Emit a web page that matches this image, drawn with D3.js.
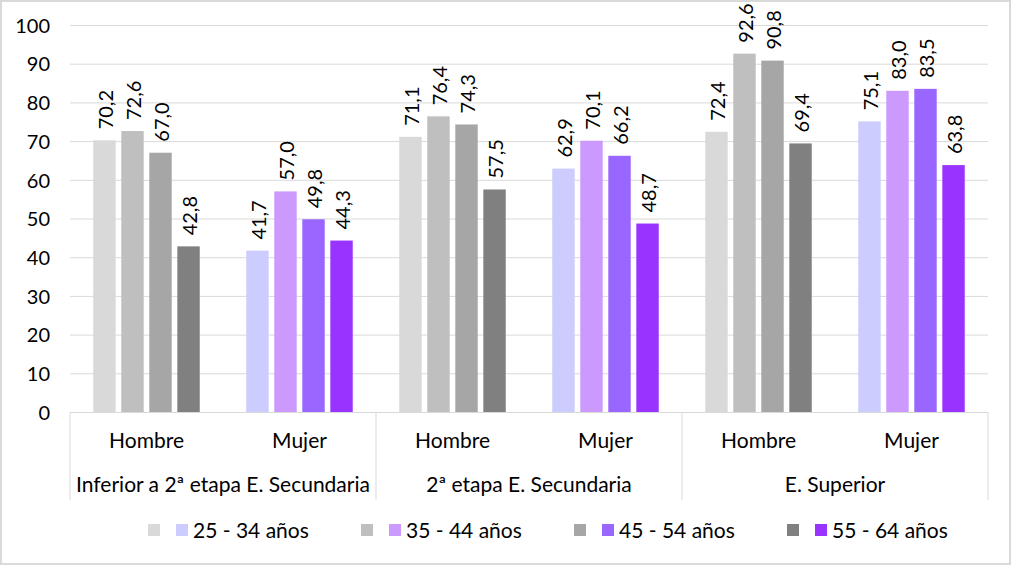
<!DOCTYPE html>
<html>
<head>
<meta charset="utf-8">
<script src="https://cdn.jsdelivr.net/npm/d3@7"></script>
<style>
  body { margin: 0; background: #fff; }
  svg text { font-family: Lato, "Open Sans", sans-serif; fill: #000; }
</style>
</head>
<body>
<div id="plot"></div>
<script>
// data
var groups = ['Inferior a 2ª etapa E. Secundaria', '2ª etapa E. Secundaria', 'E. Superior'];
var sexes = ['Hombre', 'Mujer'];
var ages = ['25 - 34 años', '35 - 44 años', '45 - 54 años', '55 - 64 años'];
var hombre = [
  [70.2, 72.6, 67.0, 42.8],
  [71.1, 76.4, 74.3, 57.5],
  [72.4, 92.6, 90.8, 69.4]
];
var mujer = [
  [41.7, 57.0, 49.8, 44.3],
  [62.9, 70.1, 66.2, 48.7],
  [75.1, 83.0, 83.5, 63.8]
];
var yticks = [0, 10, 20, 30, 40, 50, 60, 70, 80, 90, 100];
var greys = ['#D9D9D9', '#BFBFBF', '#A6A6A6', '#808080'];
var purples = ['#CCCCFF', '#CC99FF', '#9966FF', '#9933FF'];

var W = 1011, H = 565;
var m = { top: 25, right: 23, bottom: 153, left: 70 };
var w = W - m.left - m.right;
var h = H - m.top - m.bottom;

// one slot per group/sex pair
var cats = [];
groups.forEach(function(g, gi) {
  sexes.forEach(function(s, si) {
    cats.push({ key: gi + '-' + si, group: g, gi: gi, sex: s, si: si,
      values: si == 0 ? hombre[gi] : mujer[gi] });
  });
});

var x0 = d3.scaleBand().domain(cats.map(function(c) { return c.key; })).range([0, w]);
var x1 = d3.scaleBand().domain(d3.range(ages.length)).range([0, x0.bandwidth()])
  .paddingInner(0.2).paddingOuter(0.83);
var xg = d3.scaleBand().domain(groups).range([0, w]);
var y = d3.scaleLinear().domain([0, 100]).range([h, 0]);

var svg = d3.select('#plot').append('svg')
  .attr('width', W)
  .attr('height', H);

svg.append('rect')
  .attr('x', 1).attr('y', 1)
  .attr('width', W - 2).attr('height', H - 2)
  .attr('fill', '#fff')
  .attr('stroke', '#D9D9D9')
  .attr('stroke-width', 2);

var g = svg.append('g')
  .attr('transform', 'translate(' + m.left + ',' + m.top + ')');

// gridlines
var ygrid = d3.axisLeft(y).tickValues(yticks.slice(1)).tickSize(-w).tickFormat('');
g.append('g')
  .attr('class', 'ygrid')
  .call(ygrid)
  .call(function(s) {
    s.select('.domain').remove();
    s.selectAll('line').attr('stroke', '#D9D9D9').attr('stroke-width', 1);
  });

// y axis labels
var yaxis = d3.axisLeft(y).tickValues(yticks).tickSize(0).tickPadding(20);
g.append('g')
  .attr('class', 'yaxis')
  .call(yaxis)
  .call(function(s) {
    s.select('.domain').remove();
    s.selectAll('text').attr('font-size', 20).attr('dy', '0.36em');
  });

// bars
var cat = g.selectAll('g.cat').data(cats).enter()
  .append('g')
    .attr('class', 'cat')
    .attr('transform', function(d) { return 'translate(' + x0(d.key) + ',0)'; });

var bar = cat.selectAll('g.bar').data(function(d) {
    return d.values.map(function(v, i) { return { v: v, i: i, si: d.si }; });
  }).enter()
  .append('g').attr('class', 'bar');

bar.append('rect')
  .attr('x', function(d) { return x1(d.i); })
  .attr('y', function(d) { return y(d.v); })
  .attr('width', x1.bandwidth())
  .attr('height', function(d) { return h - y(d.v); })
  .attr('fill', function(d) { return d.si == 0 ? greys[d.i] : purples[d.i]; });

bar.append('text')
  .attr('transform', function(d) {
    return 'translate(' + (x1(d.i) + x1.bandwidth() / 2) + ',' + (y(d.v) - 11) + ') rotate(-90)';
  })
  .attr('dy', '0.42em')
  .attr('font-size', 20)
  .text(function(d) { return d3.format('.1f')(d.v).replace('.', ','); });

// category axis box
var ax = g.append('g').attr('class', 'xaxis');
ax.append('line')
  .attr('x1', 0).attr('x2', w)
  .attr('y1', h + 0.5).attr('y2', h + 0.5)
  .attr('stroke', '#D9D9D9');

ax.selectAll('line.sep').data(groups.concat(['end'])).enter()
  .append('line')
    .attr('class', 'sep')
    .attr('x1', function(d, i) { return i * xg.step(); })
    .attr('x2', function(d, i) { return i * xg.step(); })
    .attr('y1', h)
    .attr('y2', h + 88)
    .attr('stroke', '#D9D9D9');

ax.selectAll('text.sex').data(cats).enter()
  .append('text')
    .attr('class', 'sex')
    .attr('x', function(d) { return x0(d.key) + x0.bandwidth() / 2; })
    .attr('y', h + 36)
    .attr('text-anchor', 'middle')
    .attr('font-size', 21)
    .text(function(d) { return d.sex; });

ax.selectAll('text.group').data(groups).enter()
  .append('text')
    .attr('class', 'group')
    .attr('x', function(d) { return xg(d) + xg.bandwidth() / 2; })
    .attr('y', h + 80)
    .attr('text-anchor', 'middle')
    .attr('font-size', 21)
    .text(function(d) { return d; });

// legend
var legend = svg.append('g')
  .attr('class', 'legend')
  .attr('transform', 'translate(148,530)');

var item = legend.selectAll('g.item').data(ages).enter()
  .append('g')
    .attr('class', 'item')
    .attr('transform', function(d, i) { return 'translate(' + (i * 213) + ',0)'; });

item.append('rect')
  .attr('x', 0).attr('y', -6)
  .attr('width', 12).attr('height', 12)
  .attr('fill', function(d, i) { return greys[i]; });

item.append('rect')
  .attr('x', 28).attr('y', -6)
  .attr('width', 12).attr('height', 12)
  .attr('fill', function(d, i) { return purples[i]; });

item.append('text')
  .attr('x', 45)
  .attr('dy', '0.36em')
  .attr('font-size', 21)
  .text(function(d) { return d; });
</script>
</body>
</html>
